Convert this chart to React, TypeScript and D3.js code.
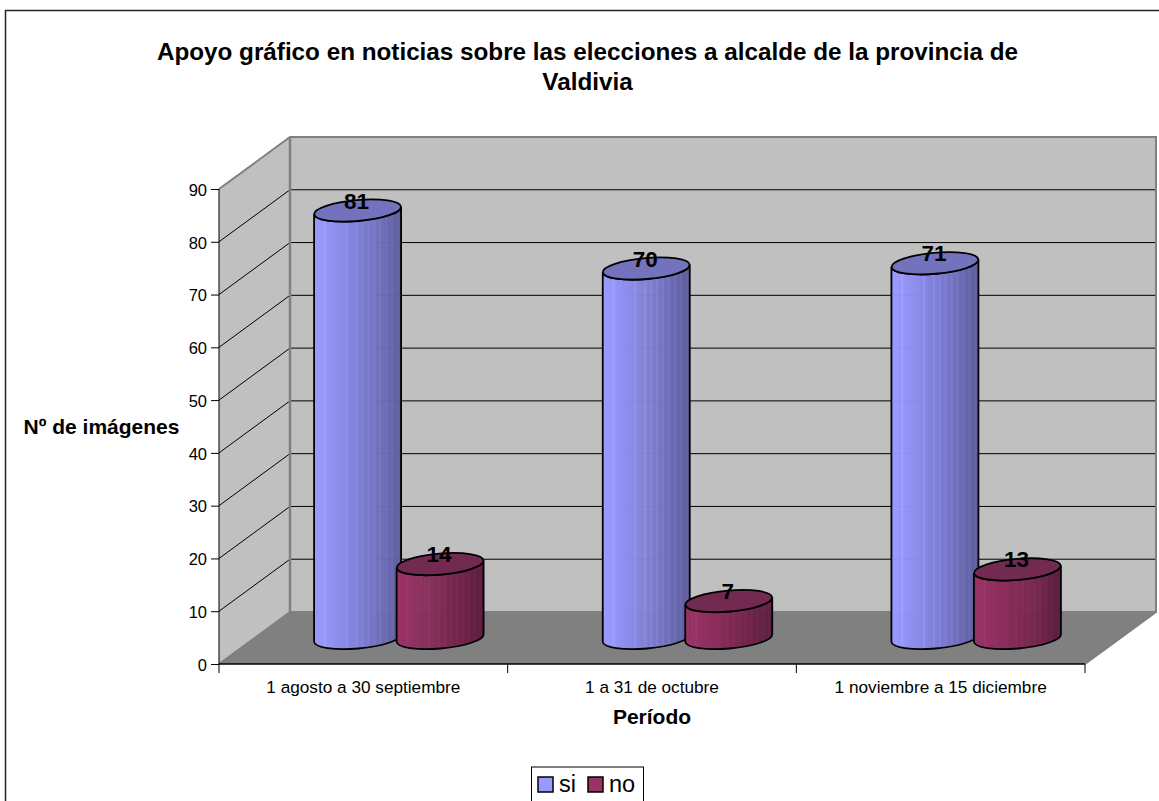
import React, { useRef, useEffect } from 'react';
import * as d3 from 'd3';

const categories = ['1 agosto a 30 septiembre', '1 a 31 de octubre', '1 noviembre a 15 diciembre'];
const seriesNames = ['si', 'no'];
const siValues = [81, 70, 71];
const noValues = [14, 7, 13];
const yTicks = [0, 10, 20, 30, 40, 50, 60, 70, 80, 90];
const titleLines = [
  'Apoyo gráfico en noticias sobre las elecciones a alcalde de la provincia de',
  'Valdivia',
];

const FONT = '"Liberation Sans", Arial, sans-serif';
const width = 1159;
const height = 801;

const colors: Record<string, { light: string; dark: string; top: string }> = {
  si: { light: '#9999ff', dark: '#5b5b98', top: '#7272bd' },
  no: { light: '#993366', dark: '#5a1e3c', top: '#722a50' },
};

export default function App() {
  const svgRef = useRef<SVGSVGElement>(null);

  useEffect(() => {
    if (!svgRef.current) return;
    d3.select(svgRef.current).selectAll('*').remove();

    const svg = d3.select(svgRef.current).attr('width', width).attr('height', height);

    // Plot box
    const left = 219;
    const right = 1085;
    const bottom = 664;
    const top = 189;
    const depthX = 71;
    const depthY = 52;

    const xScale = d3.scaleBand<string>().domain(categories).range([left, right]);
    const yScale = d3.scaleLinear().domain([0, 90]).range([bottom, top]);

    // Outer frame, open on the right and bottom where the picture is cut
    svg
      .append('path')
      .attr('d', d3.line()([[5.5, height], [5.5, 10.5], [width, 10.5]]))
      .attr('fill', 'none')
      .attr('stroke', '#222')
      .attr('stroke-width', 1.5);

    // Title
    titleLines.forEach((line, i) => {
      svg
        .append('text')
        .attr('x', 587.5)
        .attr('y', 59.5 + i * 30)
        .attr('text-anchor', 'middle')
        .attr('font-family', FONT)
        .attr('font-size', 24.25)
        .attr('font-weight', 'bold')
        .text(line);
    });

    // Walls and floor
    const pathOf = (pts: [number, number][]) => d3.line()(pts) + 'Z';
    svg
      .append('path')
      .attr('d', pathOf([[left, top], [left + depthX, top - depthY], [left + depthX, bottom - depthY], [left, bottom]]))
      .attr('fill', '#c0c0c0');
    svg
      .append('path')
      .attr('d', pathOf([[left + depthX, top - depthY], [right + depthX, top - depthY], [right + depthX, bottom - depthY], [left + depthX, bottom - depthY]]))
      .attr('fill', '#c0c0c0');
    svg
      .append('path')
      .attr('d', pathOf([[left, bottom], [left + depthX, bottom - depthY], [right + depthX, bottom - depthY], [right, bottom]]))
      .attr('fill', '#808080');

    // Gridlines
    yTicks.slice(1, -1).forEach((t) => {
      const y = yScale(t);
      svg
        .append('path')
        .attr('d', d3.line()([[left, y], [left + depthX, y - depthY], [right + depthX, y - depthY]]))
        .attr('fill', 'none')
        .attr('stroke', '#000')
        .attr('stroke-width', 1);
    });

    // Wall edges
    svg
      .append('path')
      .attr('d', d3.line()([[left, top], [left + depthX, top - depthY], [right + depthX, top - depthY], [right + depthX, bottom - depthY], [right, bottom]]))
      .attr('fill', 'none')
      .attr('stroke', '#808080')
      .attr('stroke-width', 2);
    svg
      .append('path')
      .attr('d', d3.line()([[left, bottom], [left + depthX, bottom - depthY], [right + depthX, bottom - depthY]]))
      .attr('fill', 'none')
      .attr('stroke', '#808080')
      .attr('stroke-width', 2);
    svg
      .append('line')
      .attr('x1', left + depthX)
      .attr('x2', left + depthX)
      .attr('y1', top - depthY)
      .attr('y2', bottom - depthY)
      .attr('stroke', '#808080')
      .attr('stroke-width', 2.5);

    // Axes
    const yAxis = svg
      .append('g')
      .attr('transform', `translate(${left},0)`)
      .call(d3.axisLeft(yScale).tickValues(yTicks).tickSize(8).tickPadding(4).tickFormat(d3.format('d')));
    yAxis.select('.domain').attr('d', `M0,${top}V${bottom}`).attr('stroke', '#000');
    yAxis.selectAll('text').attr('font-family', FONT).attr('font-size', 16.5).attr('fill', '#000').attr('dy', '0.38em');

    const xAxis = svg
      .append('g')
      .attr('transform', `translate(0,${bottom})`)
      .call(d3.axisBottom(xScale).tickSize(0).tickPadding(17));
    xAxis.select('.domain').attr('d', `M${left},0H${right}`).attr('stroke', '#000').attr('stroke-width', 1.5);
    xAxis.selectAll('text').attr('font-family', FONT).attr('font-size', 17.2).attr('fill', '#000');
    xScale
      .domain()
      .map((c) => xScale(c)!)
      .concat(right)
      .forEach((x) => {
        svg
          .append('line')
          .attr('x1', x)
          .attr('x2', x)
          .attr('y1', bottom)
          .attr('y2', bottom + 9)
          .attr('stroke', '#000');
      });

    // Axis titles
    svg
      .append('text')
      .attr('x', 101.5)
      .attr('y', 434)
      .attr('text-anchor', 'middle')
      .attr('font-family', FONT)
      .attr('font-size', 21)
      .attr('font-weight', 'bold')
      .text('Nº de imágenes');
    svg
      .append('text')
      .attr('x', 652)
      .attr('y', 724)
      .attr('text-anchor', 'middle')
      .attr('font-family', FONT)
      .attr('font-size', 21)
      .attr('font-weight', 'bold')
      .text('Período');

    // Cylinders
    const defs = svg.append('defs');
    const seriesScale = d3.scaleBand<string>().domain(seriesNames).range([-82.5, 82.5]);
    const rx = 43.5;
    const ry = 10.5;
    const tilt = -5;
    const edgeDy = rx * Math.sin((tilt * Math.PI) / 180);
    const stripCount = 44;

    const labels: { x: number; y: number; text: string }[] = [];

    categories.forEach((cat, ci) => {
      seriesNames.forEach((name, si) => {
        const value = name === 'si' ? siValues[ci] : noValues[ci];
        const cx = xScale(cat)! + xScale.bandwidth() / 2 + depthX / 2 + seriesScale(name)! + seriesScale.bandwidth() / 2;
        const baseY = yScale(0) - depthY / 2;
        const topY = baseY - (yScale(0) - yScale(value));
        const c = colors[name];
        const color = d3.interpolateRgb(c.light, c.dark);

        // Body outline: straight sides with the lower half of the base ellipse
        const body = `M${cx - rx},${topY - edgeDy}L${cx - rx},${baseY - edgeDy}`
          + `A${rx},${ry} ${tilt} 0 0 ${cx + rx},${baseY + edgeDy}`
          + `L${cx + rx},${topY + edgeDy}`
          + `A${rx},${ry} ${tilt} 0 1 ${cx - rx},${topY - edgeDy}Z`;

        const clipId = `clip-${ci}-${si}`;
        defs.append('clipPath').attr('id', clipId).append('path').attr('d', body);

        const g = svg.append('g');
        const strips = g.append('g').attr('clip-path', `url(#${clipId})`);
        const stripScale = d3.scaleLinear().domain([0, stripCount]).range([cx - rx, cx + rx]);
        d3.range(stripCount).forEach((i) => {
          const tone = color(Math.pow((i + 0.5) / stripCount, 1.3));
          const isLit = i > 20 ? i % 3 === 0 : i % 11 === 5;
          strips
            .append('rect')
            .attr('x', stripScale(i))
            .attr('width', stripScale(i + 1) - stripScale(i) + 0.5)
            .attr('y', topY - 15)
            .attr('height', baseY - topY + 30)
            .attr('fill', isLit ? d3.color(tone)!.brighter(0.18).formatHex() : tone);
        });

        g.append('path').attr('d', body).attr('fill', 'none').attr('stroke', '#000').attr('stroke-width', 1.8);
        g.append('ellipse')
          .attr('cx', cx)
          .attr('cy', topY)
          .attr('rx', rx)
          .attr('ry', ry)
          .attr('transform', `rotate(${tilt} ${cx} ${topY})`)
          .attr('fill', c.top)
          .attr('stroke', '#000')
          .attr('stroke-width', 1.8);

        labels.push({ x: cx - 1, y: topY - 2, text: String(value) });
      });
    });

    // Data labels sit above all cylinders
    labels.forEach((d) => {
      svg
        .append('text')
        .attr('x', d.x)
        .attr('y', d.y)
        .attr('text-anchor', 'middle')
        .attr('font-family', FONT)
        .attr('font-size', 22.5)
        .attr('font-weight', 'bold')
        .text(d.text);
    });

    // Legend
    svg
      .append('rect')
      .attr('x', 531.5)
      .attr('y', 767)
      .attr('width', 112)
      .attr('height', 50)
      .attr('fill', '#fff')
      .attr('stroke', '#000');
    seriesNames.forEach((name, i) => {
      const x = 538 + i * 50;
      svg
        .append('rect')
        .attr('x', x)
        .attr('y', 777)
        .attr('width', 15)
        .attr('height', 15)
        .attr('fill', colors[name].light)
        .attr('stroke', '#000')
        .attr('stroke-width', 1.5);
      svg
        .append('text')
        .attr('x', x + 21)
        .attr('y', 792)
        .attr('font-family', FONT)
        .attr('font-size', 23.5)
        .text(name);
    });
  }, []);

  return <svg ref={svgRef} style={{ position: 'absolute', left: 0, top: 0 }}></svg>;
}
